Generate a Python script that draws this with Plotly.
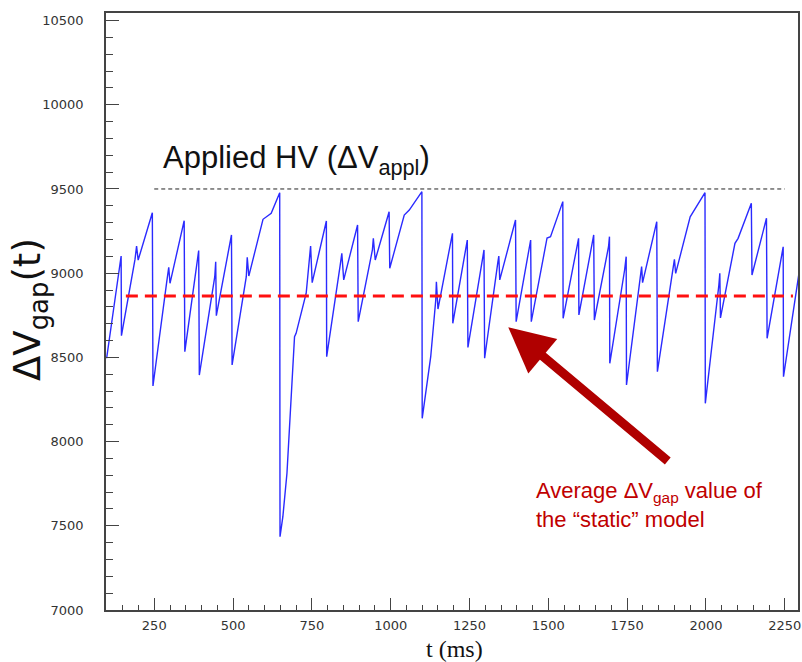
import plotly.graph_objects as go

# ---- data ----
t_ms = [99, 139, 145, 146, 189, 194, 199, 244, 246, 289, 296, 300, 345, 347,
        391, 393, 442, 445, 447, 495, 497, 542, 545, 550, 595, 621, 648, 649,
        658, 671, 688, 695, 700, 732, 746, 751, 796, 797, 840, 845, 851, 895,
        897, 942, 945, 951, 995, 997, 1043, 1059, 1099, 1100, 1127, 1143, 1145,
        1150, 1196, 1197, 1243, 1245, 1296, 1298, 1340, 1343, 1346, 1396, 1398,
        1444, 1446, 1496, 1507, 1546, 1547, 1591, 1596, 1597, 1644, 1646, 1691,
        1694, 1695, 1742, 1747, 1748, 1791, 1796, 1799, 1844, 1846, 1897, 1900,
        1904, 1950, 1997, 1998, 2041, 2044, 2046, 2092, 2102, 2144, 2146, 2192,
        2194, 2245, 2246, 2295]
v_gap = [8495, 9039, 9102, 8629, 9082, 9161, 9078, 9359, 8330, 8940, 9035, 8940,
         9312, 8534, 9134, 8395, 8979, 9068, 8748, 9227, 8455, 8979, 9094, 8983,
         9320, 9356, 9478, 7435, 7554, 7812, 8346, 8623, 8643, 8881, 9161, 8944,
         9310, 8504, 9049, 9118, 8960, 9286, 8712, 9138, 9207, 9078, 9365, 9029,
         9345, 9375, 9484, 8138, 8504, 8841, 8949, 8787, 9237, 8702, 9197, 8559,
         9138, 8495, 9066, 9102, 8960, 9316, 8712, 9197, 8712, 9209, 9217, 9425,
         8732, 9157, 9207, 8752, 9227, 8722, 9157, 9217, 8465, 9019, 9098, 8336,
         8949, 9039, 8944, 9306, 8415, 9019, 9082, 8999, 9335, 9478, 8227, 8930,
         8999, 8734, 9177, 9207, 9415, 8989, 9326, 8613, 9157, 8385, 8999]

applied_hv = 9500
applied_hv_span = [250, 2250]
static_avg = 8865
static_avg_span = [160, 2276]

x_range = [97, 2292]
y_range = [7000, 10545]
x_ticks = [250, 500, 750, 1000, 1250, 1500, 1750, 2000, 2250]
y_ticks = [7000, 7500, 8000, 8500, 9000, 9500, 10000, 10500]
x_ticklabels = [str(v) for v in x_ticks]
y_ticklabels = [str(v) for v in y_ticks]

arrow_tip = (1373, 8679)

fig = go.Figure()

fig.add_trace(go.Scatter(
    x=t_ms, y=v_gap, mode="lines",
    line=dict(color="#2a2aff", width=1.4), showlegend=False, hoverinfo="skip"))

fig.add_trace(go.Scatter(
    x=applied_hv_span, y=[applied_hv, applied_hv], mode="lines",
    line=dict(color="#222222", width=1, dash="4px,3px"), showlegend=False))

fig.add_trace(go.Scatter(
    x=static_avg_span, y=[static_avg, static_avg], mode="lines",
    line=dict(color="#ff1010", width=3, dash="12px,7px"), showlegend=False))

axis_common = dict(
    showgrid=False, zeroline=False, showline=True, linecolor="#444444",
    linewidth=1.5, mirror=True, ticks="inside", tickcolor="#444444",
    tickwidth=1.3, tickfont=dict(family="DejaVu Sans", size=13, color="#333333"),
)

fig.update_xaxes(range=x_range, tickvals=x_ticks, ticktext=x_ticklabels, ticklen=12,
                 minor=dict(dtick=50, tick0=0, ticklen=5, ticks="inside",
                            tickcolor="#444444", tickwidth=1.3),
                 ticklabelstandoff=3, **axis_common)
fig.update_yaxes(range=y_range, tickvals=y_ticks, ticktext=y_ticklabels, ticklen=13,
                 minor=dict(dtick=100, tick0=0, ticklen=7, ticks="inside",
                            tickcolor="#444444", tickwidth=1.3),
                 ticklabelstandoff=18, **axis_common)

annotations = [
    dict(x=271, y=9672, xref="x", yref="y", xanchor="left", yanchor="middle",
         text="Applied HV (ΔV<sub>appl</sub>)", showarrow=False,
         font=dict(family="Liberation Sans", size=31, color="#111111")),
    dict(x=1454, y=7623, xref="x", yref="y", xanchor="left", yanchor="middle",
         align="left", text="Average ΔV<sub>gap</sub> value of<br>the “static” model",
         showarrow=False,
         font=dict(family="Liberation Sans", size=22, color="#c00000")),
    dict(x=arrow_tip[0], y=arrow_tip[1], xref="x", yref="y", text="",
         showarrow=True, ax=161, ay=135, arrowcolor="#b00000", arrowwidth=9,
         arrowhead=2, arrowsize=1.0, standoff=0),
    dict(x=-0.11, y=8787, xref="paper", yref="y", xanchor="center",
         yanchor="middle", textangle=-90, text="ΔV<sub>gap</sub>(t)",
         showarrow=False, font=dict(family="DejaVu Sans", size=37, color="#111111")),
    dict(x=1201, y=-0.066, xref="x", yref="paper", xanchor="center",
         yanchor="middle", text="t (ms)", showarrow=False, borderpad=0,
         font=dict(family="Liberation Serif", size=24, color="#111111")),
]

fig.update_layout(
    width=802, height=662,
    margin=dict(l=106, r=2, t=13, b=52),
    paper_bgcolor="white", plot_bgcolor="white",
    annotations=annotations,
    showlegend=False,
)

fig.write_html("out.html")
